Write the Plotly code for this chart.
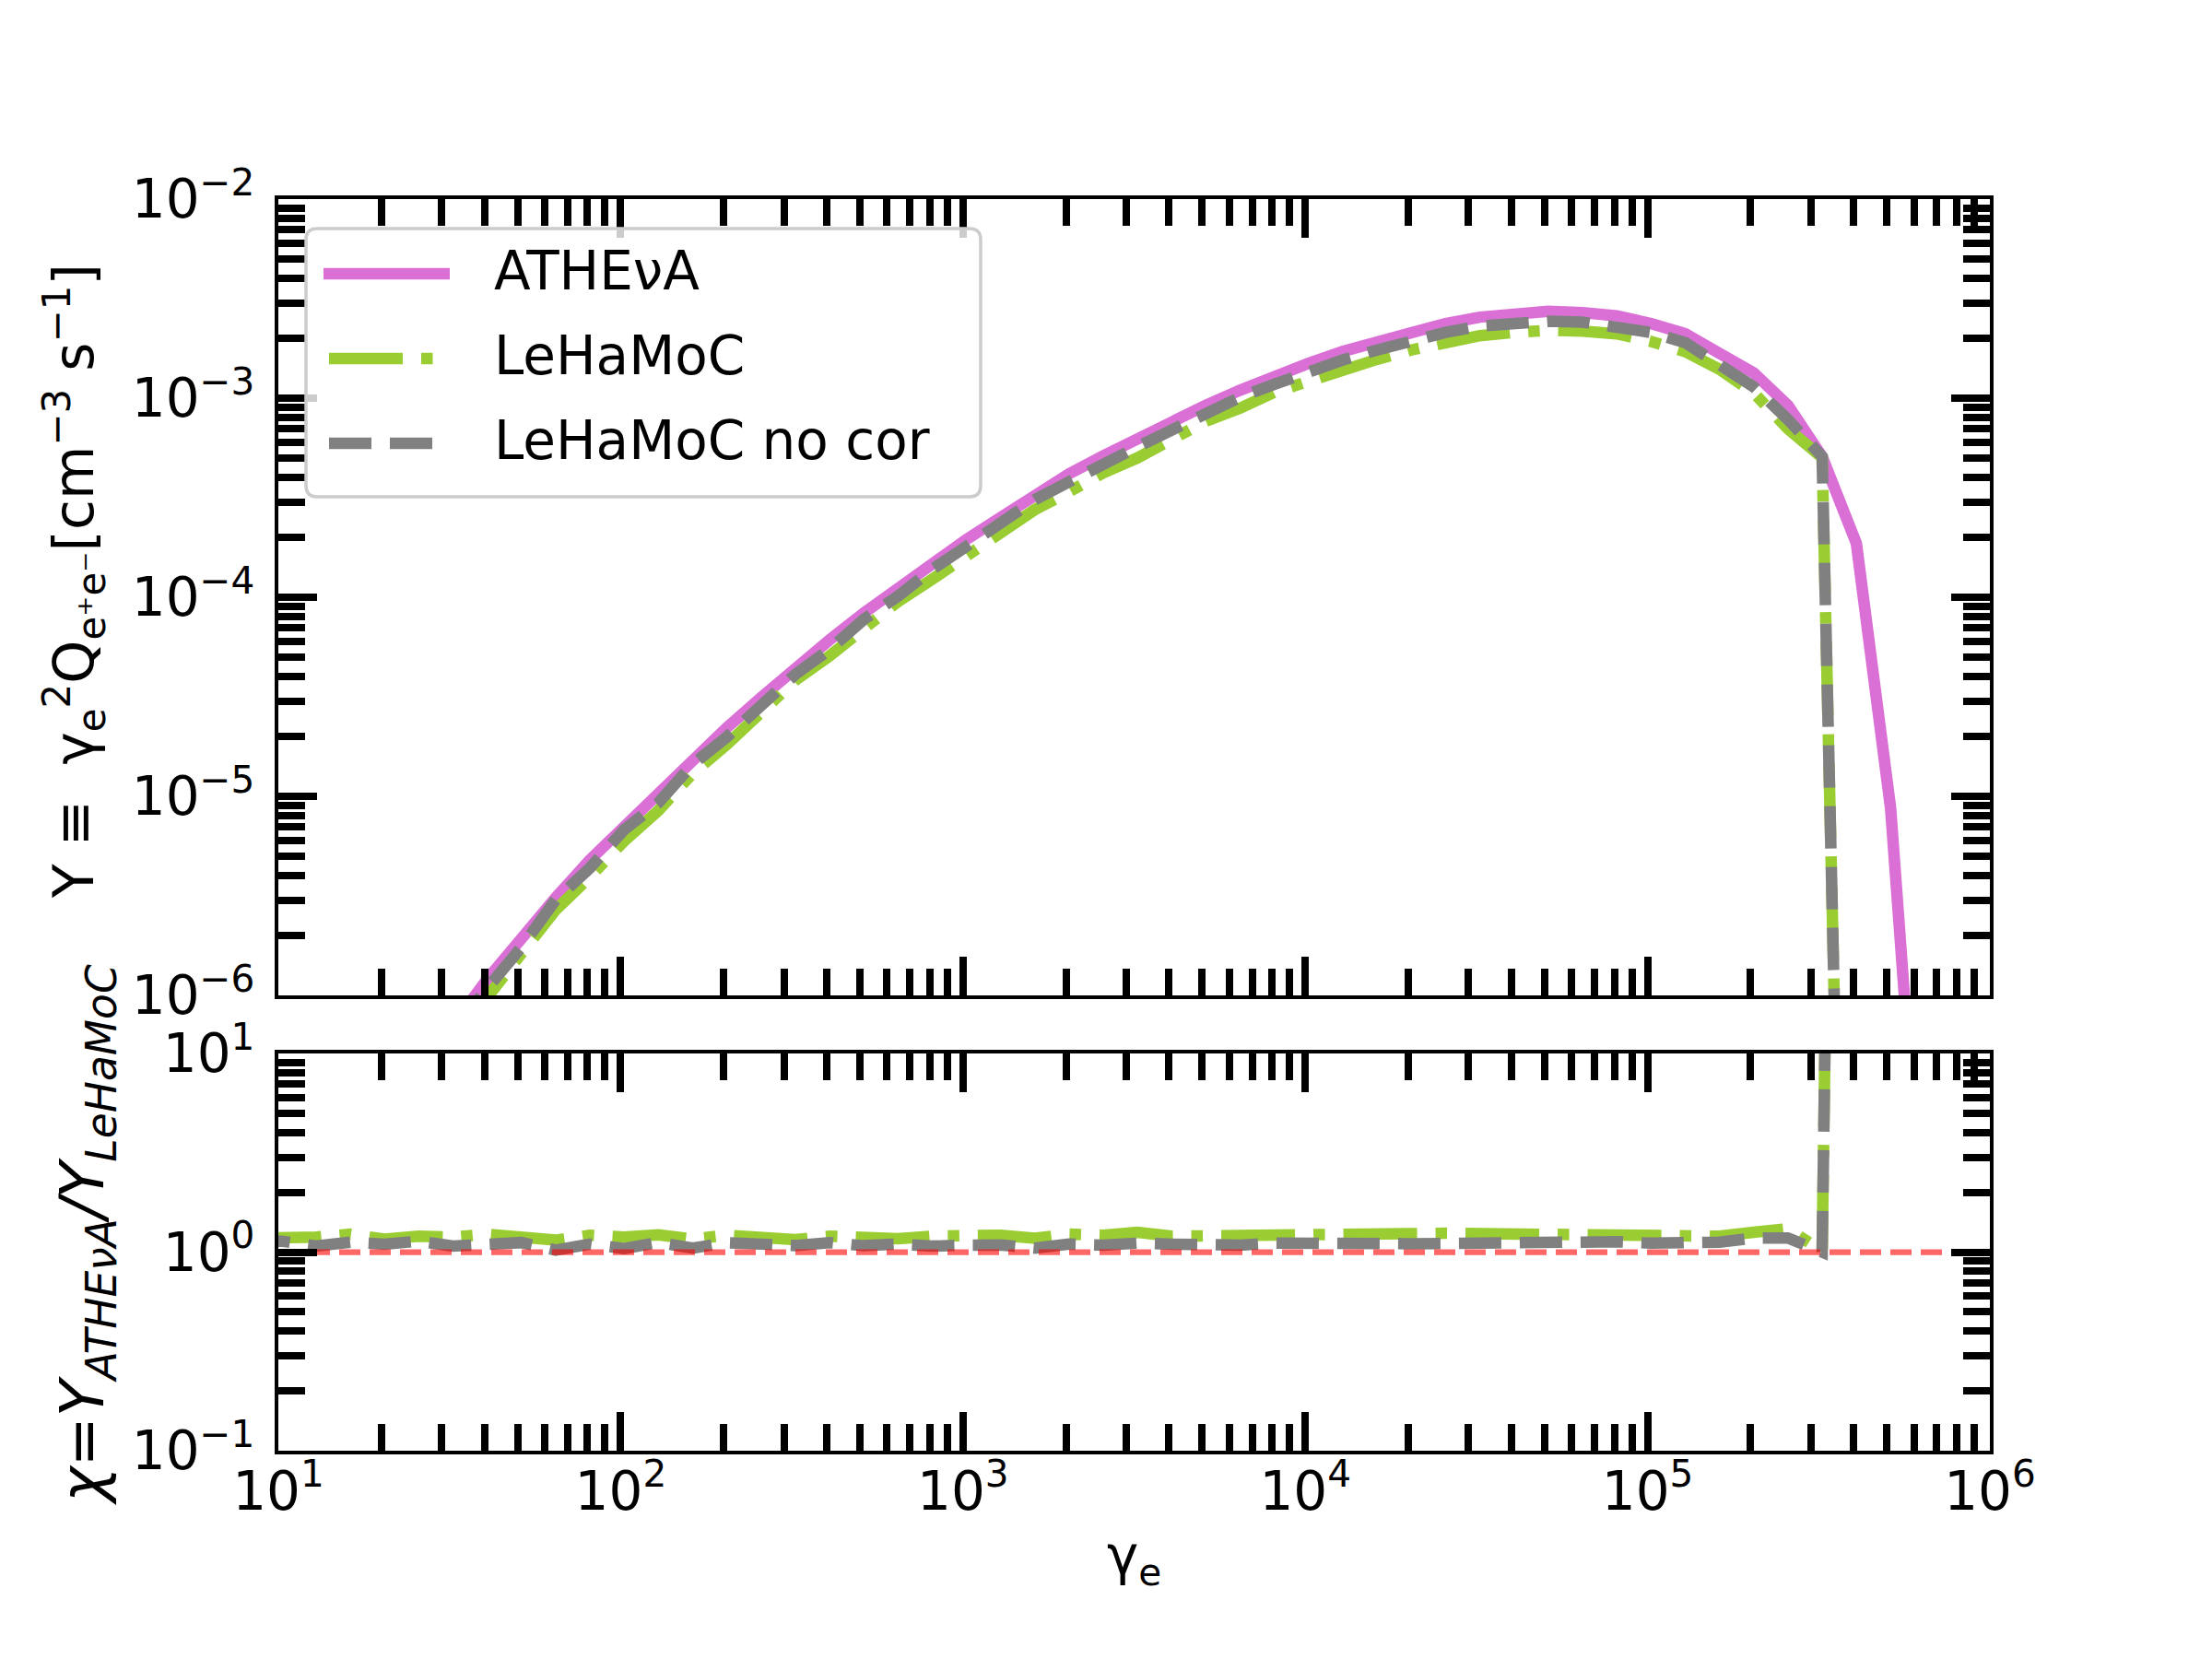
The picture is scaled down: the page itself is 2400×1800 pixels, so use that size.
import numpy as np
import plotly.graph_objects as go

# ---------------- data (log10 values) ----------------
log_gamma = [0.91, 1.01, 1.11, 1.21, 1.31, 1.41, 1.51, 1.61, 1.71, 1.81,
             1.91, 2.01, 2.11, 2.21, 2.31, 2.41, 2.51, 2.61, 2.71, 2.81,
             2.91, 3.01, 3.11, 3.21, 3.31, 3.41, 3.51, 3.61, 3.71, 3.81,
             3.91, 4.01, 4.11, 4.21, 4.31, 4.41, 4.51, 4.61, 4.71, 4.81,
             4.91, 5.01, 5.11, 5.21, 5.31, 5.41, 5.51, 5.61, 5.71, 5.81]

log_Y_athena = [-7.63, -7.38, -7.13, -6.88, -6.63, -6.39, -6.15, -5.92, -5.71, -5.51,
                -5.32, -5.15, -4.985, -4.82, -4.655, -4.505, -4.355, -4.215, -4.08, -3.955,
                -3.83, -3.71, -3.60, -3.49, -3.38, -3.29, -3.20, -3.12, -3.035, -2.96,
                -2.885, -2.825, -2.765, -2.715, -2.665, -2.625, -2.593, -2.575, -2.564, -2.57,
                -2.587, -2.625, -2.676, -2.775, -2.873, -3.036, -3.294, -3.729, -5.06, -7.4]

log_Y_lehamoc = [-7.70, -7.45, -7.205, -6.97, -6.695, -6.47, -6.225, -6.01, -5.79, -5.57,
                 -5.405, -5.225, -5.072, -4.885, -4.74, -4.575, -4.418, -4.295, -4.15, -4.022,
                 -3.91, -3.795, -3.685, -3.56, -3.47, -3.375, -3.30, -3.20, -3.115, -3.05,
                 -2.97, -2.915, -2.857, -2.805, -2.758, -2.72, -2.686, -2.67, -2.659, -2.663,
                 -2.677, -2.715, -2.766, -2.855, -2.973, -3.154, -3.299, -11.0, -30.0, -30.0]

log_Y_nocor = [-7.68, -7.435, -7.16, -6.93, -6.67, -6.445, -6.18, -5.965, -5.758, -5.52,
               -5.36, -5.168, -5.033, -4.84, -4.702, -4.545, -4.388, -4.263, -4.112, -3.995,
               -3.86, -3.745, -3.636, -3.51, -3.42, -3.325, -3.245, -3.16, -3.07, -2.995,
               -2.93, -2.865, -2.808, -2.758, -2.707, -2.67, -2.638, -2.623, -2.614, -2.618,
               -2.639, -2.67, -2.721, -2.825, -2.943, -3.107, -3.294, -11.0, -30.0, -30.0]

ref_x = [10, 1e6]
ref_y = [1, 1]

x_tickvals = [1e1, 1e2, 1e3, 1e4, 1e5, 1e6]
x_ticktext = ["10<sup>1</sup>", "10<sup>2</sup>", "10<sup>3</sup>",
              "10<sup>4</sup>", "10<sup>5</sup>", "10<sup>6</sup>"]
y1_tickvals = [1e-6, 1e-5, 1e-4, 1e-3, 1e-2]
y1_ticktext = ["10<sup>\u22126</sup>", "10<sup>\u22125</sup>", "10<sup>\u22124</sup>",
               "10<sup>\u22123</sup>", "10<sup>\u22122</sup>"]
y2_tickvals = [1e-1, 1e0, 1e1]
y2_ticktext = ["10<sup>\u22121</sup>", "10<sup>0</sup>", "10<sup>1</sup>"]

series_names = ["ATHE\u03bdA", "LeHaMoC", "LeHaMoC no cor"]

# ---------------- derived quantities ----------------
gamma = 10 ** np.array(log_gamma)
Y_ath = 10 ** np.array(log_Y_athena)
Y_leh = 10 ** np.array(log_Y_lehamoc)
Y_noc = 10 ** np.array(log_Y_nocor)
chi_leh = Y_ath / Y_leh
chi_noc = Y_ath / Y_noc

# ---------------- styling ----------------
FONT = "DejaVu Sans"
FS = 58
LW = 12.5
C_ATH = "#DA70D6"
C_LEH = "#9ACD32"
C_NOC = "#808080"
DASH_DD = "80px,20px,12.5px,20px"
DASH_D = "46px,20px"

# page geometry (the html body adds an 8 px margin around the figure)
OFF = 8
PAGE_L, PAGE_T, PAGE_R_EDGE, PAGE_B_EDGE = 302, 216, 2159, 1574
W, H = 2400 - 2 * OFF, 1800 - 2 * OFF
L = PAGE_L - OFF
T = PAGE_T - OFF
PW = PAGE_R_EDGE - PAGE_L
PH = PAGE_B_EDGE - PAGE_T
R = W - L - PW
B = H - T - PH


def px_x(px):
    return (px - PAGE_L) / PW


def px_y(py):
    return (PAGE_B_EDGE - py) / PH


fig = go.Figure()
fig.add_trace(go.Scatter(x=gamma, y=Y_ath, mode="lines", name=series_names[0],
                         line=dict(color=C_ATH, width=LW), xaxis="x", yaxis="y"))
fig.add_trace(go.Scatter(x=gamma, y=Y_leh, mode="lines", name=series_names[1],
                         line=dict(color=C_LEH, width=LW, dash=DASH_DD), xaxis="x", yaxis="y"))
fig.add_trace(go.Scatter(x=gamma, y=Y_noc, mode="lines", name=series_names[2],
                         line=dict(color=C_NOC, width=LW, dash=DASH_D), xaxis="x", yaxis="y"))
fig.add_trace(go.Scatter(x=gamma, y=chi_leh, mode="lines", showlegend=False,
                         line=dict(color=C_LEH, width=LW, dash=DASH_DD), xaxis="x2", yaxis="y2"))
fig.add_trace(go.Scatter(x=gamma, y=chi_noc, mode="lines", showlegend=False,
                         line=dict(color=C_NOC, width=LW, dash=DASH_D), xaxis="x2", yaxis="y2"))
fig.add_trace(go.Scatter(x=ref_x, y=ref_y, mode="lines", showlegend=False,
                         line=dict(color="rgba(255,0,0,0.6)", width=6.25, dash="23px,10px"),
                         xaxis="x2", yaxis="y2"))

minor_x = [m * 10.0 ** e for e in range(1, 6) for m in range(2, 10)]
minor_y1 = [m * 10.0 ** e for e in range(-6, -2) for m in range(2, 10)]
minor_y2 = [m * 10.0 ** e for e in range(-1, 1) for m in range(2, 10)]

common = dict(type="log", showgrid=False, zeroline=False, showline=True,
              linecolor="black", linewidth=4, mirror="ticks",
              ticks="inside", ticklen=42, tickwidth=8, tickcolor="black",
              tickmode="array",
              tickfont=dict(family=FONT, size=FS, color="black"))


def minor(vals):
    return dict(tickmode="array", tickvals=vals, ticks="inside", ticklen=29,
                tickwidth=8, tickcolor="black", showgrid=False)


fig.update_layout(
    width=W, height=H,
    margin=dict(l=L, r=R, t=T, b=B, pad=0),
    paper_bgcolor="white", plot_bgcolor="white",
    showlegend=False,
    font=dict(family=FONT, size=FS, color="black"),
    xaxis=dict(common, domain=[0, 1], anchor="y", range=[1, 6],
               tickvals=x_tickvals, ticktext=x_ticktext, showticklabels=False,
               minor=minor(minor_x)),
    xaxis2=dict(common, domain=[0, 1], anchor="y2", range=[1, 6], matches="x",
                tickvals=x_tickvals, ticktext=x_ticktext, showticklabels=True,
                ticklabelstandoff=-10, minor=minor(minor_x)),
    yaxis=dict(common, domain=[px_y(1080), 1], anchor="x", range=[-6, -2],
               tickvals=y1_tickvals, ticktext=y1_ticktext, ticklabelstandoff=10,
               minor=minor(minor_y1)),
    yaxis2=dict(common, domain=[0, px_y(1143)], anchor="x2", range=[-1, 1],
                tickvals=y2_tickvals, ticktext=y2_ticktext, ticklabelstandoff=10,
                minor=minor(minor_y2)),
)

# axis titles
fig.add_annotation(xref="paper", yref="paper", x=px_x(80), y=px_y(631),
                   text="Y \u2261  \u03b3<sub>e</sub><sup>2</sup>Q<sub>e\u207ae\u207b</sub>[cm<sup>\u22123</sup> s<sup>\u22121</sup>]",
                   textangle=-90, showarrow=False, xanchor="center", yanchor="middle",
                   font=dict(family=FONT, size=60, color="black"))
fig.add_annotation(xref="paper", yref="paper", x=px_x(94), y=px_y(1340),
                   text="<i>\u03c7=Y<sub>ATHE\u03bdA</sub>/Y<sub>LeHaMoC</sub></i>",
                   textangle=-90, showarrow=False, xanchor="center", yanchor="middle",
                   font=dict(family=FONT, size=65, color="black"))
fig.add_annotation(xref="paper", yref="paper", x=0.5, y=px_y(1692),
                   text="\u03b3<sub>e</sub>", showarrow=False,
                   xanchor="center", yanchor="middle",
                   font=dict(family=FONT, size=FS, color="black"))

# legend (drawn by hand to match matplotlib look)
x0, x1, y0, y1, r = 332, 1064, 248, 539, 12
path = (f"M {px_x(x0 + r)},{px_y(y0)} L {px_x(x1 - r)},{px_y(y0)} "
        f"Q {px_x(x1)},{px_y(y0)} {px_x(x1)},{px_y(y0 + r)} "
        f"L {px_x(x1)},{px_y(y1 - r)} Q {px_x(x1)},{px_y(y1)} {px_x(x1 - r)},{px_y(y1)} "
        f"L {px_x(x0 + r)},{px_y(y1)} Q {px_x(x0)},{px_y(y1)} {px_x(x0)},{px_y(y1 - r)} "
        f"L {px_x(x0)},{px_y(y0 + r)} Q {px_x(x0)},{px_y(y0)} {px_x(x0 + r)},{px_y(y0)} Z")
fig.add_shape(type="path", path=path, xref="paper", yref="paper",
              fillcolor="rgba(255,255,255,0.8)", line=dict(color="rgba(204,204,204,1)", width=3.5),
              layer="above")
leg_y = [297, 389, 481]
leg_styles = [(C_ATH, "solid", 351, 488), (C_LEH, DASH_DD, 357, 482), (C_NOC, DASH_D, 357, 482)]
for (col, dash, lx0, lx1), ly, name in zip(leg_styles, leg_y, series_names):
    fig.add_shape(type="line", xref="paper", yref="paper",
                  x0=px_x(lx0), x1=px_x(lx1), y0=px_y(ly), y1=px_y(ly),
                  line=dict(color=col, width=LW, dash=dash), layer="above")
    fig.add_annotation(xref="paper", yref="paper", x=px_x(534), y=px_y(ly - 3),
                       text=name, showarrow=False, xanchor="left", yanchor="middle",
                       font=dict(family=FONT, size=FS, color="black"))

fig.write_html("out.html")
